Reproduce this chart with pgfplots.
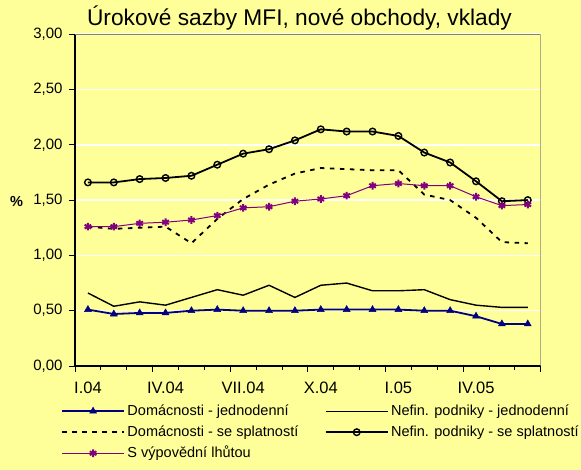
\documentclass[border=0pt]{standalone}
\usepackage{pgfplots}
\pgfplotsset{compat=1.18}
\usepackage{fontspec}
\setmainfont{Liberation Sans}
\definecolor{bgy}{HTML}{FFFF99}
\definecolor{navyb}{HTML}{000080}
\definecolor{purp}{HTML}{800080}
\begin{document}
\begin{tikzpicture}
\fill[bgy] (-75bp,-104bp) rectangle (506bp,366bp);
\useasboundingbox (-75bp,-104bp) rectangle (506bp,366bp);
\begin{axis}[
  at={(0,0)}, anchor=south west,
  scale only axis, width=465.7bp, height=331.8bp,
  xmin=-0.5, xmax=17.5, ymin=0, ymax=3,
  axis x line*=bottom, axis y line*=left,
  axis line style={black, line width=1.2bp},
  ytick={0,0.5,...,3},
  ymajorgrids, major grid style={white, line width=1.5bp},
  xtick={0,3,6,9,12,15},
  xticklabels={I.04,IV.04,VII.04,X.04,I.05,IV.05},
  xtick style={draw=none},
  extra x ticks={-0.5,2.5,5.5,8.5,11.5,14.5,17.5},
  extra x tick labels={},
  extra x tick style={grid=none, xtick style={draw=black, line width=0.8bp}, major tick length=6bp, tick align=outside},
  minor xtick={0.5,1.5,3.5,4.5,6.5,7.5,9.5,10.5,12.5,13.5,15.5,16.5},
  minor tick length=4bp,
  minor x tick style={draw=black, line width=0.8bp},
  ytick style={draw=black, line width=0.8bp},
  major tick length=6bp,
  tick align=outside,
  /pgf/number format/.cd, use comma, fixed, fixed zerofill, precision=2, assume math mode=true,
  /pgfplots/.cd,
  yticklabel style={font=\fontsize{15bp}{18bp}\selectfont, anchor=east, xshift=-3bp},
  xticklabel style={font=\fontsize{16.5bp}{19bp}\selectfont, anchor=north, yshift=-6bp},
  title={Úrokové sazby MFI, nové obchody, vklady},
  title style={font=\fontsize{22.7bp}{27bp}\selectfont, at={(axis description cs:0.482,1)}, anchor=base, yshift=2.5bp, inner sep=0pt},
  ylabel={\%},
  every axis y label/.style={at={(axis description cs:0,0.495)}, anchor=center, xshift=-58.5bp, font=\bfseries\fontsize{14.5bp}{17bp}\selectfont},
  legend columns=2,
  legend cell align=left,
  legend style={at={(axis description cs:0,0)}, anchor=north west, xshift=-14bp, yshift=-38bp,
    draw=none, fill=none, inner sep=0pt, row sep=7bp,
    font=\fontsize{14.5bp}{17bp}\selectfont,
    nodes={inner xsep=2.5bp, inner ysep=0pt, text height=11bp, text depth=3bp},
    /tikz/every even column/.append style={column sep=24bp}},
  legend image code/.code={\draw[mark repeat=2,mark phase=2,#1] plot coordinates {(0bp,0bp) (31bp,0bp) (62bp,0bp)};},
]
\addplot[navyb, line width=1.8bp, mark=triangle*, mark size=4bp, mark options={fill=navyb, draw=navyb, line width=0.5bp}]
 coordinates {(0,0.51)(1,0.47)(2,0.48)(3,0.48)(4,0.50)(5,0.51)(6,0.50)(7,0.50)(8,0.50)(9,0.51)(10,0.51)(11,0.51)(12,0.51)(13,0.50)(14,0.50)(15,0.45)(16,0.38)(17,0.38)};
\addlegendentry{Domácnosti - jednodenní}
\addplot[black, line width=1.4bp, mark=none]
 coordinates {(0,0.66)(1,0.54)(2,0.58)(3,0.55)(4,0.62)(5,0.69)(6,0.64)(7,0.73)(8,0.62)(9,0.73)(10,0.75)(11,0.68)(12,0.68)(13,0.69)(14,0.60)(15,0.55)(16,0.53)(17,0.53)};
\addlegendentry{Nefin. podniky - jednodenní}
\addplot[black, line width=1.8bp, dash pattern=on 4.5bp off 5.5bp, mark=none]
 coordinates {(0,1.26)(1,1.24)(2,1.25)(3,1.26)(4,1.11)(5,1.33)(6,1.51)(7,1.64)(8,1.74)(9,1.79)(10,1.78)(11,1.77)(12,1.77)(13,1.55)(14,1.50)(15,1.34)(16,1.12)(17,1.11)};
\addlegendentry{Domácnosti - se splatností}
\addplot[black, line width=1.8bp, mark=o, mark size=3.3bp, mark options={fill=bgy, line width=1.4bp, solid}]
 coordinates {(0,1.66)(1,1.66)(2,1.69)(3,1.70)(4,1.72)(5,1.82)(6,1.92)(7,1.96)(8,2.04)(9,2.14)(10,2.12)(11,2.12)(12,2.08)(13,1.93)(14,1.84)(15,1.67)(16,1.49)(17,1.50)};
\addlegendentry{Nefin. podniky - se splatností}
\addplot[purp, line width=1bp, mark=asterisk, mark size=3.8bp, mark options={line width=2bp, purp}]
 coordinates {(0,1.26)(1,1.26)(2,1.29)(3,1.30)(4,1.32)(5,1.36)(6,1.43)(7,1.44)(8,1.49)(9,1.51)(10,1.54)(11,1.63)(12,1.65)(13,1.63)(14,1.63)(15,1.53)(16,1.45)(17,1.46)};
\addlegendentry{S výpovědní lhůtou}
\draw[gray, line width=1.2bp] (rel axis cs:0,1) -- (rel axis cs:1,1) -- (rel axis cs:1,0);
\end{axis}
\end{tikzpicture}
\end{document}
